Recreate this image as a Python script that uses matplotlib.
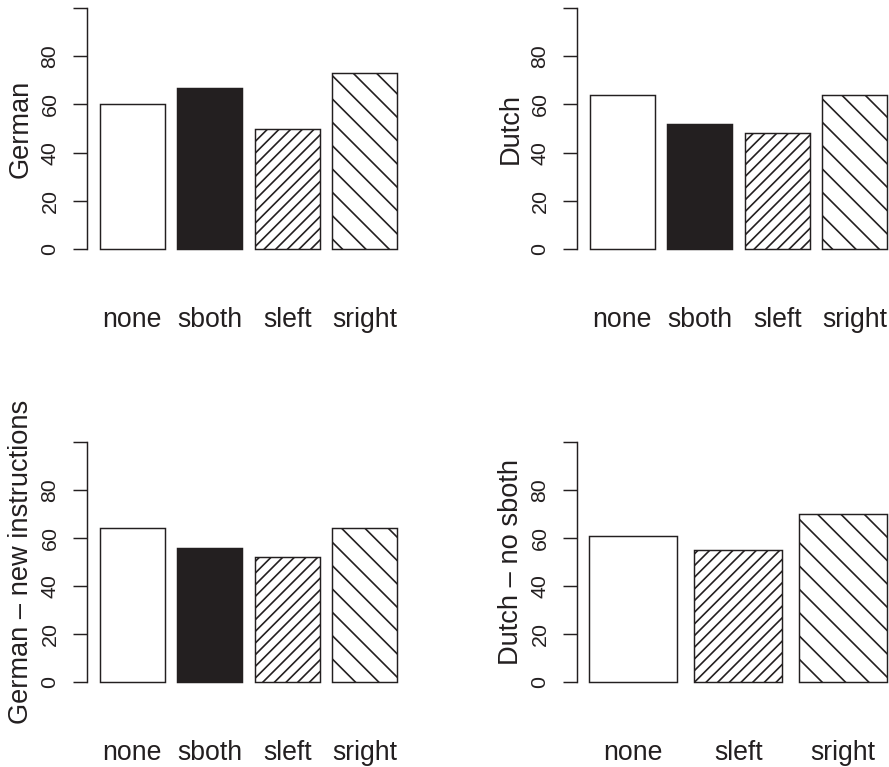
import matplotlib
matplotlib.use("Agg")
import matplotlib.pyplot as plt

# --- data ---
categories = ["none", "sboth", "sleft", "sright"]
german = [60, 67, 50, 73]
dutch = [64, 52, 48, 64]
german_new = [64, 56, 52, 64]

categories_no_sboth = ["none", "sleft", "sright"]
dutch_no_sboth = [61, 55, 70]

yticks = [0, 20, 40, 60, 80, 100]
ytick_labels = ["0", "20", "40", "60", "80", ""]

# bar styles per category (R barplot look: blank, solid, dense /, sparse \)
ink = "#231f20"
styles = {
    "none": dict(color="white", hatch=None),
    "sboth": dict(color=ink, hatch=None),
    "sleft": dict(color="white", hatch="////"),
    "sright": dict(color="white", hatch="\\\\"),
}

plt.rcParams["font.family"] = ["Liberation Sans", "DejaVu Sans"]
plt.rcParams["hatch.linewidth"] = 0.85

W, H, DPI = 889, 767, 140
fig = plt.figure(figsize=(W / DPI, H / DPI), dpi=DPI)


def panel(left, top, right, bottom, cats, vals, ylabel, xlim):
    # positions given in pixels from the top-left corner
    ax = fig.add_axes([left / W, 1 - bottom / H, (right - left) / W, (bottom - top) / H])
    xs = [0.2 + 1.2 * i for i in range(len(cats))]
    for x, c, v in zip(xs, cats, vals):
        st = styles[c]
        ax.bar(x, v, width=1.0, align="edge", facecolor=st["color"],
               edgecolor=ink, hatch=st["hatch"], linewidth=0.75, clip_on=False)
    ax.set_xlim(*xlim)
    ax.set_ylim(0, 100)
    for s in ["top", "right", "bottom"]:
        ax.spines[s].set_visible(False)
    ax.spines["left"].set_linewidth(0.75)
    ax.spines["left"].set_color(ink)
    ax.set_yticks(yticks)
    ax.set_yticklabels(ytick_labels, rotation=90, va="center", ha="right")
    ax.tick_params(axis="y", length=7.2, width=0.75, color=ink, pad=7,
                   labelsize=11, labelcolor=ink)
    ax.set_xticks([x + 0.5 for x in xs])
    ax.set_xticklabels(cats)
    ax.tick_params(axis="x", length=0, pad=30, labelsize=13.7, labelcolor=ink)
    # y label: baseline on the right side of rotated text
    fig.text((left - 59) / W, 1 - ((top + bottom) / 2) / H, ylabel,
             rotation=90, rotation_mode="anchor", ha="center", va="baseline",
             fontsize=14, color=ink)
    return ax


panel(87, 8, 397, 249, categories, german, "German", (0, 4.8))
panel(577, 8, 887, 249, categories, dutch, "Dutch", (0, 4.8))
panel(87, 442, 397, 682, categories, german_new, "German – new instructions", (0, 4.8))
panel(577, 442, 887, 682, categories_no_sboth, dutch_no_sboth, "Dutch – no sboth", (0.06, 3.6))

fig.savefig("out.png", dpi=DPI)
